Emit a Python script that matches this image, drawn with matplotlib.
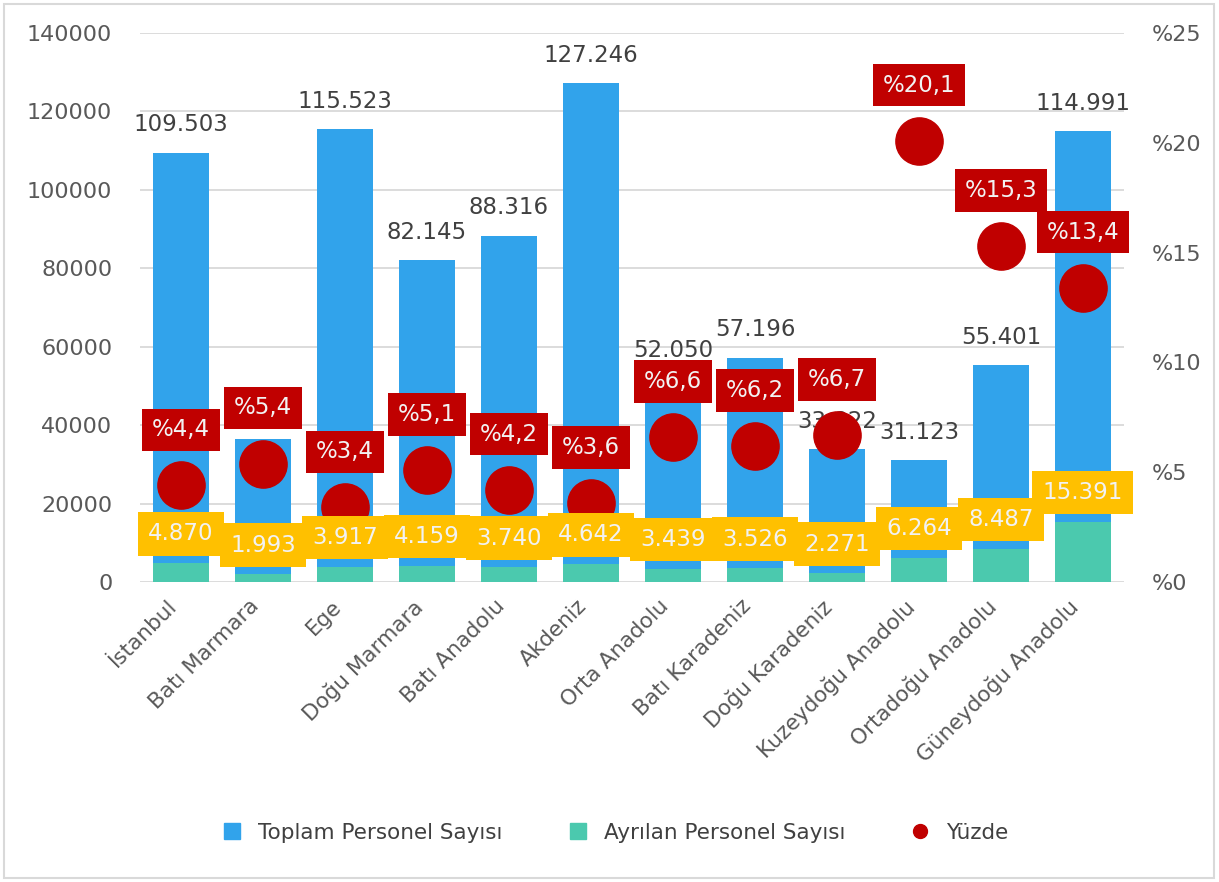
import numpy as np
import matplotlib.pyplot as plt
from matplotlib.lines import Line2D
from matplotlib.patches import Rectangle

bolgeler = ['İstanbul', 'Batı Marmara', 'Ege', 'Doğu Marmara', 'Batı Anadolu', 'Akdeniz',
            'Orta Anadolu', 'Batı Karadeniz', 'Doğu Karadeniz', 'Kuzeydoğu Anadolu',
            'Ortadoğu Anadolu', 'Güneydoğu Anadolu']
toplam = [109503, 36500, 115523, 82145, 88316, 127246, 52050, 57196, 33822, 31123, 55401, 114991]
ayrilan = [4870, 1993, 3917, 4159, 3740, 4642, 3439, 3526, 2271, 6264, 8487, 15391]
yuzde = [4.4, 5.4, 3.4, 5.1, 4.2, 3.6, 6.6, 6.2, 6.7, 20.1, 15.3, 13.4]
etiket_yok = ['Batı Marmara']	# bu etiket grafikte görünmüyor

MAVI = '#31A3EB'
YESIL = '#4BC9AE'
KIRMIZI = '#C00000'
SARI = '#FFC000'
GRI = '#595959'

def nokta(v):
	# binlik ayraç olarak nokta
	return f'{v:,}'.replace(',', '.')

plt.rcParams['font.family'] = ['DejaVu Sans']

fig = plt.figure(figsize=(12.19, 8.82), dpi=100)
ax = fig.add_axes([0.1149, 0.340, 0.922 - 0.1149, 0.9626 - 0.340])
ax2 = ax.twinx()

x = np.arange(len(bolgeler))
ax.bar(x, toplam, width=0.69, color=MAVI, zorder=2)
ax.bar(x, ayrilan, width=0.69, color=YESIL, zorder=3)

ax.set_xlim(-0.5, len(bolgeler) - 0.5)
ax.set_ylim(0, 140000)
ax.set_yticks(np.arange(0, 140001, 20000))
ax.yaxis.grid(True, color='#d9d9d9', lw=1.3)
ax.set_axisbelow(True)
ax.set_xticks(x)
ax.set_xticklabels(bolgeler, rotation=45, ha='right')
ax.tick_params(axis='y', length=0, pad=20, labelsize=16, labelcolor=GRI)
ax.tick_params(axis='x', length=0, pad=10, labelsize=15.5, labelcolor=GRI)

ax2.set_ylim(0, 25)
ax2.set_yticks(np.arange(0, 26, 5))
ax2.set_yticklabels(['%' + str(t) for t in range(0, 26, 5)])
ax2.tick_params(axis='y', length=0, pad=20, labelsize=16, labelcolor=GRI)

for a in (ax, ax2):
	for s in a.spines.values():
		s.set_visible(False)

# etiketler ve noktalar ikinci eksende, sıralama zorder ile
for i in range(len(bolgeler)):
	if bolgeler[i] not in etiket_yok:
		ax2.annotate(nokta(toplam[i]), xy=(i, toplam[i]), xycoords=ax.transData,
			xytext=(0, 20), textcoords='offset points', ha='center', va='center',
			fontsize=16.5, color='#404040', zorder=2)

ax2.plot(x, yuzde, 'o', ls='none', ms=34, color=KIRMIZI, zorder=3)

for i in range(len(bolgeler)):
	ax2.annotate(nokta(ayrilan[i]), xy=(i, ayrilan[i]), xycoords=ax.transData,
		xytext=(0, 21), textcoords='offset points', ha='center', va='center',
		fontsize=16.5, color='#F2F2F2', zorder=4,
		bbox=dict(boxstyle='square,pad=0.45', fc=SARI, ec='none'))
	ax2.annotate('%' + str(yuzde[i]).replace('.', ','), xy=(i, yuzde[i]),
		xytext=(0, 40), textcoords='offset points', ha='center', va='center',
		fontsize=16.5, color='#F2F2F2', zorder=5,
		bbox=dict(boxstyle='square,pad=0.42', fc=KIRMIZI, ec='none'))

tutamak = [Line2D([], [], marker='s', ls='none', ms=11, color=MAVI),
           Line2D([], [], marker='s', ls='none', ms=11, color=YESIL),
           Line2D([], [], marker='o', ls='none', ms=10, color=KIRMIZI)]
fig.legend(tutamak, ['Toplam Personel Sayısı', 'Ayrılan Personel Sayısı', 'Yüzde'],
	loc='center', bbox_to_anchor=(0.5, 0.056), ncol=3, frameon=False, fontsize=15.5,
	columnspacing=2.5, handletextpad=0.2, labelcolor='#404040')

fig.patches.append(Rectangle((0.003, 0.004), 0.993, 0.992, transform=fig.transFigure,
	fill=False, edgecolor='#d9d9d9', lw=1.5))

fig.savefig('out.png', dpi=100)
